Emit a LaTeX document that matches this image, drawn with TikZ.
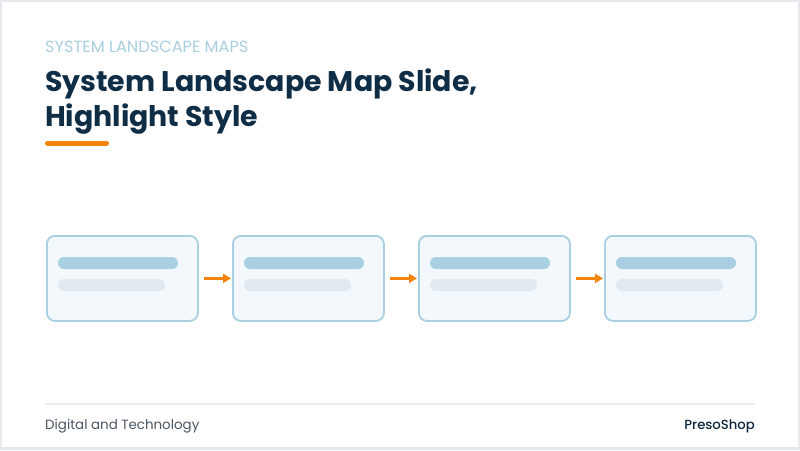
\documentclass[tikz,border=0pt]{standalone}
\usepackage{fontspec}
\setmainfont{Poppins}
\newfontfamily\pmed{Poppins Medium}
\newfontfamily\pbold{Poppins Bold}
\usetikzlibrary{arrows.meta}
\definecolor{kicker}{HTML}{A9CFE0}
\definecolor{navy}{HTML}{0F2D45}
\definecolor{orng}{HTML}{F5840C}
\definecolor{boxfill}{HTML}{F2F8FB}
\definecolor{boxline}{HTML}{A9D0E0}
\definecolor{barA}{HTML}{A8CFE2}
\definecolor{barB}{HTML}{E1EAF1}
\definecolor{rule}{HTML}{E6ECF1}
\definecolor{foot}{HTML}{4A5560}
\definecolor{frame}{HTML}{E5E9EE}
\tikzset{
  stagebox/.style={draw=boxline, line width=1.8pt, fill=boxfill, rounded corners=8pt, minimum width=151pt, minimum height=85pt, inner sep=0pt},
  barone/.style={fill=barA, rounded corners=6pt, draw=none},
  bartwo/.style={fill=barB, rounded corners=6pt, draw=none},
  flow/.style={draw=orng, line width=3pt, -{Triangle[length=8pt,width=9pt]}, shorten >=1pt}
}
\begin{document}
\begin{tikzpicture}[x=1pt,y=-1pt]
\useasboundingbox (0,0) rectangle (800,450);
\fill[frame] (0,0) rectangle (800,450);
\fill[white] (2,2) rectangle (798,447);
\node[anchor=base west, inner sep=0pt, text=kicker, font=\fontsize{16.2}{19}\selectfont] (kick) at (45,52.5) {SYSTEM LANDSCAPE MAPS};
\node[anchor=base west, inner sep=0pt, text=navy, font=\pbold\fontsize{28.4}{32}\selectfont] (t1) at (45,91) {System Landscape Map Slide,};
\node[anchor=base west, inner sep=0pt, text=navy, font=\pbold\fontsize{28.4}{32}\selectfont] (t2) at (45,126) {Highlight Style};
\draw[orng, line width=5pt, line cap=round] (47.5,143) -- (106.5,143);
\foreach \i/\x in {1/46,2/232,3/418,4/604}{
  \node[stagebox, anchor=north west] (b\i) at (\x,235) {};
  \fill[barone] (\x+12,257) rectangle (\x+132,269);
  \fill[bartwo] (\x+12,279) rectangle (\x+119,291);
}
\draw[flow] ([xshift=5pt]b1.east) -- (b2.west);
\draw[flow] ([xshift=5pt]b2.east) -- (b3.west);
\draw[flow] ([xshift=5pt]b3.east) -- (b4.west);
\draw[rule, line width=1.5pt] (45,404) -- (755,404);
\node[anchor=base west, inner sep=0pt, text=foot, font=\fontsize{13.4}{16}\selectfont] (fl) at (45,429) {Digital and Technology};
\node[anchor=base east, inner sep=0pt, text=navy!85!black, font=\pmed\fontsize{13.2}{16}\selectfont] (fr) at (755,429) {PresoShop};
\end{tikzpicture}
\end{document}
